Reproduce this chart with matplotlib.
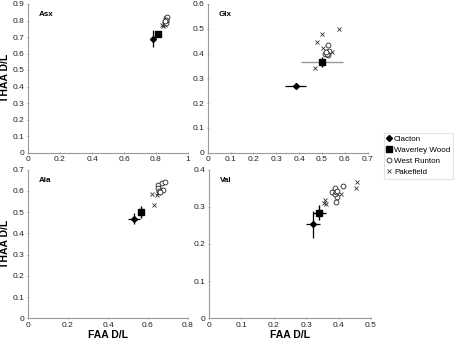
import numpy as np
import matplotlib
matplotlib.use('Agg')
import matplotlib.pyplot as plt
from matplotlib.ticker import FuncFormatter, MultipleLocator

plt.rcParams['font.family'] = ['Liberation Sans', 'DejaVu Sans']

# panels: Asx, Glx, Ala, Val
names = ['Asx', 'Glx', 'Ala', 'Val']
xmax = [1.0, 0.7, 0.8, 0.5]
ymax = [0.9, 0.6, 0.7, 0.4]
xstep = [0.2, 0.1, 0.2, 0.1]

# Clacton (mean with error bars)
clacton_faa = [0.78, 0.385, 0.53, 0.32]
clacton_thaa = [0.69, 0.27, 0.47, 0.253]
clacton_xerr = [0.01, 0.045, 0.03, 0.022]
clacton_yerr = [0.05, 0.01, 0.025, 0.037]

# Waverley Wood (mean with error bars)
ww_faa = [0.81, 0.50, 0.567, 0.34]
ww_thaa = [0.72, 0.365, 0.50, 0.284]
ww_xerr = [0.005, 0.09, 0.005, 0.02]
ww_yerr = [0.006, 0.02, 0.027, 0.02]

# West Runton
wr_faa = [
    [0.86, 0.865, 0.87, 0.855, 0.865, 0.86, 0.858],
    [0.528, 0.52, 0.53, 0.515, 0.525, 0.522, 0.518],
    [0.652, 0.672, 0.685, 0.66, 0.675, 0.648, 0.655, 0.658],
    [0.389, 0.413, 0.381, 0.396, 0.391, 0.389, 0.391, 0.394],
]
wr_thaa = [
    [0.80, 0.815, 0.82, 0.79, 0.785, 0.805, 0.80],
    [0.435, 0.405, 0.41, 0.40, 0.395, 0.40, 0.405],
    [0.628, 0.636, 0.643, 0.604, 0.604, 0.612, 0.60, 0.595],
    [0.352, 0.357, 0.341, 0.327, 0.312, 0.334, 0.339, 0.342],
]

# Pakefield
pk_faa = [
    [0.835, 0.85, 0.845, 0.855],
    [0.574, 0.501, 0.479, 0.506, 0.542, 0.471, 0.52],
    [0.62, 0.632, 0.643, 0.652],
    [0.456, 0.454, 0.406, 0.358, 0.361, 0.355],
]
pk_thaa = [
    [0.77, 0.78, 0.765, 0.775],
    [0.498, 0.479, 0.445, 0.421, 0.407, 0.34, 0.40],
    [0.584, 0.534, 0.58, 0.59],
    [0.368, 0.352, 0.334, 0.318, 0.307, 0.31],
]

W, H = 455.0, 341.0
# axes rectangles in pixels: left, top, right, bottom
rects = [(28, 4, 188, 152.5), (207.7, 4, 367.7, 152.5),
         (28, 169.7, 188, 318.3), (209, 169.7, 371, 318.3)]

fig = plt.figure(figsize=(4.55, 3.41), dpi=100)
fmt = FuncFormatter(lambda v, p: '%g' % round(v, 2))
spine_col = '#9a9a9a'
handles = None

for i in range(4):
    l, t, r, b = rects[i]
    ax = fig.add_axes([l / W, 1 - b / H, (r - l) / W, (b - t) / H])
    ax.set_xlim(0, xmax[i])
    ax.set_ylim(0, ymax[i])
    ax.xaxis.set_major_locator(MultipleLocator(xstep[i]))
    ax.yaxis.set_major_locator(MultipleLocator(0.1))
    ax.xaxis.set_major_formatter(fmt)
    ax.yaxis.set_major_formatter(fmt)
    for s in ['top', 'right']:
        ax.spines[s].set_visible(False)
    for s in ['left', 'bottom']:
        ax.spines[s].set_color(spine_col)
        ax.spines[s].set_linewidth(0.8)
    ax.tick_params(labelsize=6, length=2, width=0.6, color=spine_col,
                   pad=1.5, direction='inout', labelcolor='#222222')

    ax.text(0.07, 0.93, names[i], transform=ax.transAxes, fontsize=5.8,
            fontweight='bold', va='center')

    pk, = ax.plot(pk_faa[i], pk_thaa[i], 'x', color='#333333', ms=3.4,
                  mew=0.6, linestyle='none', label='Pakefield')
    wr, = ax.plot(wr_faa[i], wr_thaa[i], 'o', mfc='white', mec='#222222',
                  ms=3.5, mew=0.6, linestyle='none', label='West Runton')
    xe_col = '#999999' if i == 1 else 'black'
    ax.errorbar(ww_faa[i], ww_thaa[i], xerr=ww_xerr[i], fmt='none',
                ecolor=xe_col, elinewidth=1.0, capsize=0)
    ax.errorbar(ww_faa[i], ww_thaa[i], yerr=ww_yerr[i], fmt='none',
                ecolor='black', elinewidth=1.0, capsize=0)
    ww, = ax.plot(ww_faa[i], ww_thaa[i], 's', color='black', ms=4,
                  linestyle='none', label='Waverley Wood')
    ax.errorbar(clacton_faa[i], clacton_thaa[i], xerr=clacton_xerr[i],
                yerr=clacton_yerr[i], fmt='none', ecolor='black',
                elinewidth=0.9, capsize=0)
    cl, = ax.plot(clacton_faa[i], clacton_thaa[i], 'D', color='black',
                  ms=3, linestyle='none', label='Clacton')
    if i == 0:
        handles = [cl, ww, wr, pk]
    if i % 2 == 0:
        ax.set_ylabel('THAA D/L', fontsize=7.5, fontweight='bold')
        ax.yaxis.set_label_coords(-0.115, 0.5)
    if i >= 2:
        ax.set_xlabel('FAA D/L', fontsize=7.5, fontweight='bold', labelpad=1)

leg = fig.legend(handles, [h.get_label() for h in handles],
                 loc='upper left', bbox_to_anchor=(384 / W, 1 - 132.7 / H),
                 fontsize=5.8, frameon=True, fancybox=False,
                 handlelength=0.6, handletextpad=0.3, borderpad=0.35,
                 labelspacing=0.4, borderaxespad=0)
leg.get_frame().set_edgecolor('#dddddd')
leg.get_frame().set_linewidth(0.8)

fig.savefig('out.png', dpi=100)
